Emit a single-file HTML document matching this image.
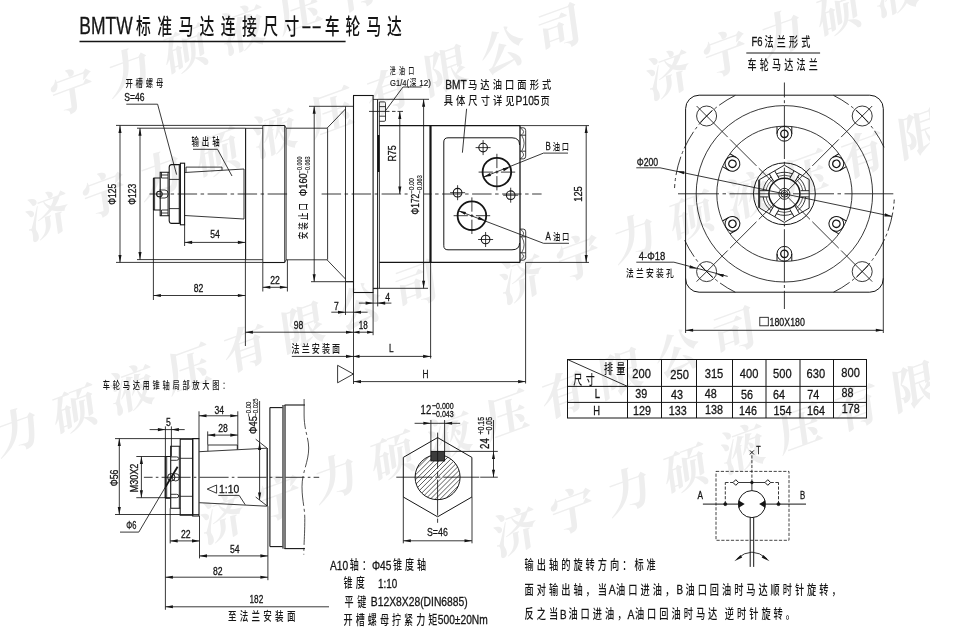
<!DOCTYPE html>
<html lang="zh"><head><meta charset="utf-8"><title>BMTW标准马达连接尺寸--车轮马达</title>
<style>
html,body{margin:0;padding:0;background:#fff}
svg{display:block;will-change:transform;opacity:.999}
svg .ar{fill:#151515;stroke:none}
svg text{font-family:'Liberation Sans','Noto Sans CJK SC',sans-serif;fill:#151515;stroke:none;font-weight:500}
svg text.wm{font-family:'Noto Serif CJK SC',serif;fill:#eee;font-weight:700}
svg text.l{stroke:#151515;stroke-width:.3}
svg text.s{stroke:#151515;stroke-width:.15}
</style></head><body>
<svg width="978" height="642" viewBox="0 0 978 642">
<g stroke="#151515" stroke-width=".85" fill="none">
<defs><clipPath id="wmc"><rect x="0" y="0" width="930" height="642"/></clipPath></defs>
<g clip-path="url(#wmc)" fill="#eeeeee" stroke="none" font-family="'Noto Serif CJK SC',serif" font-weight="700" font-size="46" letter-spacing="14.6">
<text class="wm" transform="translate(53,116.4) rotate(-20) skewX(-12)">宁力硕液压有限公司</text>
<text class="wm" transform="translate(28,240.4) rotate(-20) skewX(-12)">济宁力硕液压有限公司</text>
<text class="wm" transform="translate(649,99.4) rotate(-20) skewX(-12)">济宁力硕液压有限公司</text>
<text class="wm" transform="translate(502,303.4) rotate(-20) skewX(-12)">济宁力硕液压有限公司</text>
<text class="wm" transform="translate(-115,497) rotate(-20) skewX(-12)">济宁力硕液压有限公司</text>
<text class="wm" transform="translate(203,543.4) rotate(-20) skewX(-12)">济宁力硕液压有限公司</text>
<text class="wm" transform="translate(496,556.4) rotate(-20) skewX(-12)">济宁力硕液压有限公司</text>
</g>
<text class="l" transform="translate(79.3,34) translate(0,0) scale(0.7601,1)" font-size="23">BMTW</text>
<g transform="translate(136,34.3)">
<text transform="scale(0.69,1)" x="0 30.72 61.45 92.17 122.9 153.62 184.35 215.07" y="0" font-size="21.5">标准马达连接尺寸</text>
</g>
<text class="l" transform="translate(301.2,33.4) translate(0,0) scale(1.4728,1)" font-size="21">--</text>
<g transform="translate(324.8,34.3)">
<text transform="scale(0.69,1)" x="0 30 60 90" y="0" font-size="21.5">车轮马达</text>
</g>
<line x1="79.5" y1="41.5" x2="345.6" y2="41.5" stroke-width="1.5"/>
<line x1="149.5" y1="194" x2="288" y2="194" stroke-dasharray="19.5 3.5 3.5 3.5" stroke-dashoffset="1.9"/>
<line x1="321.6" y1="194" x2="407.6" y2="194" stroke-dasharray="19.5 3.5 3.5 3.5" stroke-dashoffset="0"/>
<line x1="424" y1="194" x2="541.6" y2="194" stroke-dasharray="19.5 3.5 3.5 3.5" stroke-dashoffset="11.9"/>
<path d="M160.2 178 L153.9 178 L153.4 178.5 L153.4 209.5 L153.9 210 L160.2 210" stroke-width="1.1"/>
<line x1="154.6" y1="178" x2="154.6" y2="210"/>
<path d="M169.2 172.2 L160.2 172.2 L160.2 215.8 L169.2 215.8" stroke-width="1.1"/>
<line x1="161.5" y1="175" x2="168" y2="175"/>
<line x1="161.5" y1="178" x2="168" y2="178"/>
<line x1="161.5" y1="213" x2="168" y2="213"/>
<line x1="161.5" y1="210" x2="168" y2="210"/>
<line x1="161.5" y1="172.2" x2="161.5" y2="178"/>
<line x1="161.5" y1="215.8" x2="161.5" y2="210"/>
<line x1="168" y1="172.2" x2="168" y2="215.8"/>
<path d="M169.2 167 Q169.6 164.6 171.5 164.6 L179.3 164.6 L179.3 223.4 L171.5 223.4 Q169.6 223.4 169.2 221 Z" stroke-width="1.1"/>
<line x1="169.2" y1="179.4" x2="179.3" y2="179.4"/>
<line x1="169.2" y1="208.6" x2="179.3" y2="208.6"/>
<rect x="180.4" y="163.2" width="4.2" height="61.6" stroke-width="1.1"/>
<line x1="179.3" y1="164.6" x2="180.4" y2="164.6"/>
<line x1="179.3" y1="223.4" x2="180.4" y2="223.4"/>
<circle cx="159.4" cy="194" r="2.8" stroke-width="1.1"/>
<path d="M159.4 190 L165 190 A3.2 4 0 0 1 165 198 L159.4 198"/>
<line x1="184.6" y1="172.5" x2="244" y2="169"/>
<line x1="184.6" y1="215.5" x2="244" y2="219"/>
<line x1="244" y1="169" x2="244" y2="219"/>
<path d="M186 172.4 L186 167.1 L222 167.1 L222 170.3"/>
<line x1="245.6" y1="128.3" x2="245.6" y2="259.7" stroke-width="1.1"/>
<line x1="245.6" y1="128.3" x2="262.8" y2="128.3"/>
<line x1="245.6" y1="259.7" x2="262.8" y2="259.7"/>
<line x1="262.8" y1="125.5" x2="262.8" y2="262.5"/>
<line x1="262.8" y1="125.5" x2="284.7" y2="125.5" stroke-width="1.1"/>
<line x1="262.8" y1="262.5" x2="284.7" y2="262.5" stroke-width="1.1"/>
<line x1="284.7" y1="125.5" x2="284.7" y2="262.5"/>
<line x1="284.7" y1="125.5" x2="286.1" y2="128.2"/>
<line x1="284.7" y1="262.5" x2="286.1" y2="259.8"/>
<line x1="286.1" y1="128.2" x2="286.1" y2="259.8"/>
<line x1="286.1" y1="128.2" x2="327" y2="128.2"/>
<line x1="286.1" y1="259.8" x2="327" y2="259.8"/>
<line x1="327.6" y1="128.2" x2="327.6" y2="259.8"/>
<line x1="327" y1="128.2" x2="345.5" y2="109"/>
<line x1="327" y1="259.8" x2="345.5" y2="279"/>
<line x1="345.5" y1="106.3" x2="345.5" y2="281.7"/>
<line x1="345.5" y1="106.3" x2="353.5" y2="106.3"/>
<line x1="345.5" y1="281.7" x2="353.5" y2="281.7"/>
<line x1="353.5" y1="95.5" x2="353.5" y2="292.5" stroke-width="1.1"/>
<line x1="373.1" y1="95.5" x2="373.1" y2="292.5" stroke-width="1.1"/>
<line x1="353" y1="95.5" x2="373.6" y2="95.5" stroke-width="1.1"/>
<line x1="353" y1="292.5" x2="373.6" y2="292.5" stroke-width="1.1"/>
<line x1="373.1" y1="99.4" x2="377.8" y2="99.4"/>
<line x1="373.1" y1="288.6" x2="377.8" y2="288.6"/>
<line x1="377.6" y1="99.4" x2="377.6" y2="288.6" stroke-width="1.0"/>
<line x1="379.4" y1="102" x2="379.4" y2="288.6"/>
<line x1="378.5" y1="135" x2="378.5" y2="172" stroke-width="2.0"/>
<line x1="379.4" y1="125.6" x2="520" y2="125.6" stroke-width="1.1"/>
<line x1="379.4" y1="262.4" x2="520" y2="262.4" stroke-width="1.1"/>
<line x1="430.5" y1="125.6" x2="430.5" y2="262.4" stroke-width="2.2"/>
<path d="M379.4 101.9 L384.3 101.9 Q385.5 101.9 385.5 103.2 L385.5 120 Q385.5 121.3 384.3 121.3 L379.4 121.3"/>
<line x1="379.4" y1="106.6" x2="385.5" y2="106.6"/>
<line x1="379.4" y1="116.2" x2="385.5" y2="116.2"/>
<line x1="369" y1="111.4" x2="403" y2="111.4" stroke-dasharray="20.5 2.5 3.5 2 6"/>
<line x1="520" y1="125.6" x2="520" y2="262.4" stroke-width="1.3"/>
<path d="M519.6 145 Q519.6 137.8 512 137.8 L448 137.8 Q443.8 137.8 443.8 142 L443.8 245.8 Q443.8 249.8 448 249.8 L512 249.8 Q519.6 249.8 519.6 243" stroke-width="1.0"/>
<path d="M520 127.8 L523.3 127.8 Q525.7 127.8 525.7 130.6 L525.7 156.2 Q525.7 158.9 523.3 158.9 L520 158.9"/>
<line x1="520" y1="135.2" x2="525.7" y2="135.2"/>
<line x1="520" y1="151.2" x2="525.7" y2="151.2"/>
<path d="M520.6 128.2 Q526.2 131.5 521.4 135" stroke-width="0.7"/>
<path d="M521.8 135.5 Q526.4 143.2 521.8 150.9" stroke-width="0.7"/>
<path d="M521.4 151.5 Q526.2 155 520.6 158.5" stroke-width="0.7"/>
<path d="M520 260.2 L523.3 260.2 Q525.7 260.2 525.7 257.4 L525.7 231.8 Q525.7 229.1 523.3 229.1 L520 229.1"/>
<line x1="520" y1="252.8" x2="525.7" y2="252.8"/>
<line x1="520" y1="236.8" x2="525.7" y2="236.8"/>
<path d="M520.6 259.8 Q526.2 256.5 521.4 253" stroke-width="0.7"/>
<path d="M521.8 252.5 Q526.4 244.8 521.8 237.1" stroke-width="0.7"/>
<path d="M521.4 236.5 Q526.2 233 520.6 229.5" stroke-width="0.7"/>
<circle cx="483.1" cy="147.6" r="4.3" stroke-width="1.1"/>
<line x1="475.6" y1="147.6" x2="490.6" y2="147.6"/>
<line x1="483.1" y1="140.1" x2="483.1" y2="155.1"/>
<circle cx="457.6" cy="192.7" r="4.3" stroke-width="1.1"/>
<line x1="450.1" y1="192.7" x2="465.1" y2="192.7"/>
<line x1="457.6" y1="185.2" x2="457.6" y2="200.2"/>
<circle cx="510.7" cy="195.2" r="4.3" stroke-width="1.1"/>
<line x1="503.2" y1="195.2" x2="518.2" y2="195.2"/>
<line x1="510.7" y1="187.7" x2="510.7" y2="202.7"/>
<circle cx="485.6" cy="239.5" r="4.3" stroke-width="1.1"/>
<line x1="478.1" y1="239.5" x2="493.1" y2="239.5"/>
<line x1="485.6" y1="232" x2="485.6" y2="247"/>
<circle cx="496.9" cy="172.1" r="14.3" stroke-width="1.8"/>
<line x1="478.6" y1="172.1" x2="492.9" y2="172.1"/>
<line x1="500.9" y1="172.1" x2="515.2" y2="172.1"/>
<line x1="495.4" y1="172.1" x2="498.4" y2="172.1"/>
<line x1="496.9" y1="153.8" x2="496.9" y2="168.1"/>
<line x1="496.9" y1="176.1" x2="496.9" y2="190.4"/>
<line x1="496.9" y1="170.6" x2="496.9" y2="173.6"/>
<circle cx="471.9" cy="215.7" r="14.3" stroke-width="1.8"/>
<line x1="453.6" y1="215.7" x2="467.9" y2="215.7"/>
<line x1="475.9" y1="215.7" x2="490.2" y2="215.7"/>
<line x1="470.4" y1="215.7" x2="473.4" y2="215.7"/>
<line x1="471.9" y1="197.4" x2="471.9" y2="211.7"/>
<line x1="471.9" y1="219.7" x2="471.9" y2="234"/>
<line x1="471.9" y1="214.2" x2="471.9" y2="217.2"/>
<line x1="483.49" y1="177.08" x2="543.5" y2="153.1"/>
<line x1="543.5" y1="153.1" x2="568" y2="153.1"/>
<path class="ar" d="M483.49 177.08 L489.99 173.01 L491.06 175.92 Z"/>
<path class="ar" d="M510.31 167.12 L503.81 171.19 L502.74 168.28 Z"/>
<g transform="translate(545.4,149.8)">
<text class="l" transform="translate(0,0) scale(0.72,1)" xml:space="preserve" font-size="11">B</text>
<text transform="scale(0.76,1)" x="9.85 21.69" y="0" font-size="9.6">油口</text>
</g>
<line x1="458.45" y1="210.83" x2="543.5" y2="243.3"/>
<line x1="543.5" y1="243.3" x2="569" y2="243.3"/>
<path class="ar" d="M458.45 210.83 L466.03 211.93 L464.98 214.84 Z"/>
<path class="ar" d="M485.35 220.57 L477.77 219.47 L478.82 216.56 Z"/>
<g transform="translate(545.6,240.2)">
<text class="l" transform="translate(0,0) scale(0.72,1)" xml:space="preserve" font-size="11">A</text>
<text transform="scale(0.76,1)" x="9.85 21.69" y="0" font-size="9.6">油口</text>
</g>
<line x1="116" y1="125.4" x2="262.8" y2="125.4"/>
<line x1="116" y1="262.4" x2="262.8" y2="262.4"/>
<line x1="120" y1="125.4" x2="120" y2="262.4"/>
<path class="ar" d="M120 125.4 L121.55 132.9 L118.45 132.9 Z"/>
<path class="ar" d="M120 262.4 L118.45 254.9 L121.55 254.9 Z"/>
<line x1="137" y1="128.2" x2="245.6" y2="128.2"/>
<line x1="137" y1="259.6" x2="245.6" y2="259.6"/>
<line x1="140" y1="128.2" x2="140" y2="259.6"/>
<path class="ar" d="M140 128.2 L141.55 135.7 L138.45 135.7 Z"/>
<path class="ar" d="M140 259.6 L138.45 252.1 L141.55 252.1 Z"/>
<text class="l" transform="translate(116,194.2) rotate(-90) translate(-10.5,0) scale(0.8267,1)" font-size="10.3">Φ125</text>
<text class="l" transform="translate(136.4,194.2) rotate(-90) translate(-10.5,0) scale(0.8267,1)" font-size="10.3">Φ123</text>
<line x1="184.6" y1="224.8" x2="184.6" y2="246"/>
<line x1="245.4" y1="259.7" x2="245.4" y2="346"/>
<line x1="184.6" y1="242.4" x2="245.4" y2="242.4"/>
<path class="ar" d="M184.6 242.4 L192.1 240.85 L192.1 243.95 Z"/>
<path class="ar" d="M245.4 242.4 L237.9 243.95 L237.9 240.85 Z"/>
<text class="l" transform="translate(215,238) translate(-4.8,0) scale(0.7991,1)" font-size="10.8">54</text>
<line x1="153.4" y1="209.5" x2="153.4" y2="300"/>
<line x1="153.4" y1="295.5" x2="245.4" y2="295.5"/>
<path class="ar" d="M153.4 295.5 L160.9 293.95 L160.9 297.05 Z"/>
<path class="ar" d="M245.4 295.5 L237.9 297.05 L237.9 293.95 Z"/>
<text class="l" transform="translate(198.5,291.5) translate(-4.8,0) scale(0.7991,1)" font-size="10.8">82</text>
<line x1="262.8" y1="262.5" x2="262.8" y2="291.5"/>
<line x1="287.4" y1="259.8" x2="287.4" y2="291.5"/>
<line x1="262.8" y1="287.3" x2="287.4" y2="287.3"/>
<path class="ar" d="M262.8 287.3 L270.3 285.75 L270.3 288.85 Z"/>
<path class="ar" d="M287.4 287.3 L279.9 288.85 L279.9 285.75 Z"/>
<text class="l" transform="translate(275,283.5) translate(-4.8,0) scale(0.7991,1)" font-size="10.8">22</text>
<line x1="309" y1="106.3" x2="345.5" y2="106.3"/>
<line x1="311" y1="281.7" x2="353.5" y2="281.7"/>
<line x1="314.2" y1="106.3" x2="314.2" y2="281.7"/>
<path class="ar" d="M314.2 106.3 L315.75 113.8 L312.65 113.8 Z"/>
<path class="ar" d="M314.2 281.7 L312.65 274.2 L315.75 274.2 Z"/>
<g transform="translate(306.7,239.3) rotate(-90)">
<text transform="scale(0.72,1)" x="0 13.33 26.67 40" y="0" font-size="10.4">安装止口</text>
</g>
<text class="l" transform="translate(307.3,196.2) rotate(-90) translate(0,0) scale(0.818,1)" font-size="11.4">Φ160</text>
<text class="s" transform="translate(302.3,173.3) rotate(-90) translate(0,0) scale(0.8743,1)" font-size="6.3">−0.000</text>
<text class="s" transform="translate(310,173.3) rotate(-90) translate(0,0) scale(0.8743,1)" font-size="6.3">−0.063</text>
<line x1="377.8" y1="99.3" x2="429" y2="99.3"/>
<line x1="373.1" y1="288.3" x2="428" y2="288.3"/>
<line x1="423.6" y1="99.3" x2="423.6" y2="288.3"/>
<path class="ar" d="M423.6 99.3 L425.15 106.8 L422.05 106.8 Z"/>
<path class="ar" d="M423.6 288.3 L422.05 280.8 L425.15 280.8 Z"/>
<text class="l" transform="translate(418.9,214.4) rotate(-90) translate(0,0) scale(0.8031,1)" font-size="10.4">Φ172</text>
<text class="s" transform="translate(414.3,193.6) rotate(-90) translate(0,0) scale(0.9341,1)" font-size="6.6">−0.00</text>
<text class="s" transform="translate(421.7,193.6) rotate(-90) translate(0,0) scale(0.9131,1)" font-size="6.6">−0.063</text>
<line x1="399.8" y1="111.4" x2="399.8" y2="194"/>
<path class="ar" d="M399.8 111.4 L401.35 118.9 L398.25 118.9 Z"/>
<path class="ar" d="M399.8 194 L398.25 186.5 L401.35 186.5 Z"/>
<text class="l" transform="translate(396.3,153.5) rotate(-90) translate(-8.1,0) scale(0.8331,1)" font-size="10.6">R75</text>
<g transform="translate(389.8,74)">
<text transform="scale(0.66,1)" x="0 13.94 27.88" y="0" font-size="9.1">泄油口</text>
</g>
<text class="s" transform="translate(390,85.8) translate(0,0) scale(0.8633,1)" font-size="8.8">G1/4(</text>
<g transform="translate(409.8,85.6)">
<text transform="scale(0.78,1)" x="0" y="0" font-size="8.6">深</text>
</g>
<text class="s" transform="translate(419.2,85.8) translate(0,0) scale(0.9278,1)" font-size="8.8">12)</text>
<line x1="403" y1="87" x2="421.6" y2="87"/>
<line x1="403" y1="87" x2="385.6" y2="110.6"/>
<text class="l" transform="translate(445.2,88.8) translate(0,0) scale(0.7454,1)" font-size="13.6">BMT</text>
<g transform="translate(468,88.6)">
<text transform="scale(0.8,1)" x="0 15.41 30.82 46.24 61.65 77.06 92.47" y="0" font-size="11.6">马达油口面形式</text>
</g>
<g transform="translate(443.7,105.1)">
<text transform="scale(0.8,1)" x="0 15.41 30.82 46.24 61.65 77.06" y="0" font-size="11.6">具体尺寸详见</text>
</g>
<text class="l" transform="translate(515.6,105.3) translate(0,0) scale(0.7556,1)" font-size="13.6">P105</text>
<g transform="translate(540.6,105.1)">
<text transform="scale(0.8,1)" x="0" y="0" font-size="11.6">页</text>
</g>
<line x1="466.6" y1="108.8" x2="462.4" y2="152.7"/>
<line x1="520" y1="125.6" x2="589" y2="125.6"/>
<line x1="525.7" y1="262.4" x2="589" y2="262.4"/>
<line x1="586.2" y1="125.6" x2="586.2" y2="262.4"/>
<path class="ar" d="M586.2 125.6 L587.75 133.1 L584.65 133.1 Z"/>
<path class="ar" d="M586.2 262.4 L584.65 254.9 L587.75 254.9 Z"/>
<text class="l" transform="translate(581.9,194) rotate(-90) translate(-7.75,0) scale(0.8764,1)" font-size="10.6">125</text>
<line x1="377.7" y1="288.3" x2="377.7" y2="306.4"/>
<line x1="358.9" y1="303.1" x2="391.4" y2="303.1"/>
<path class="ar" d="M373.1 303.1 L365.6 304.65 L365.6 301.55 Z"/>
<path class="ar" d="M377.7 303.1 L385.2 301.55 L385.2 304.65 Z"/>
<text class="l" transform="translate(387.7,300.6) translate(-2.4,0) scale(0.7991,1)" font-size="10.8">4</text>
<line x1="345.5" y1="282" x2="345.5" y2="315"/>
<line x1="331.3" y1="312.2" x2="367.6" y2="312.2"/>
<path class="ar" d="M345.5 312.2 L338 313.75 L338 310.65 Z"/>
<path class="ar" d="M353.5 312.2 L361 310.65 L361 313.75 Z"/>
<text class="l" transform="translate(336.3,309.8) translate(-2.4,0) scale(0.7991,1)" font-size="10.8">7</text>
<line x1="373.1" y1="292.8" x2="373.1" y2="335.2"/>
<line x1="245.4" y1="332.2" x2="373.1" y2="332.2"/>
<path class="ar" d="M245.4 332.2 L252.9 330.65 L252.9 333.75 Z"/>
<path class="ar" d="M353.5 332.2 L346 333.75 L346 330.65 Z"/>
<path class="ar" d="M353.5 332.2 L359.5 330.65 L359.5 333.75 Z"/>
<path class="ar" d="M373.1 332.2 L367.1 333.75 L367.1 330.65 Z"/>
<text class="l" transform="translate(298.5,329) translate(-4.8,0) scale(0.7991,1)" font-size="10.8">98</text>
<text class="l" transform="translate(363.3,329) translate(-4.5,0) scale(0.7492,1)" font-size="10.8">18</text>
<line x1="353.5" y1="292.8" x2="353.5" y2="384"/>
<g transform="translate(291.5,353.4)">
<text transform="scale(0.74,1)" x="0 13.7 27.41 41.11 54.81" y="0" font-size="10.9">法兰安装面</text>
</g>
<line x1="291.8" y1="356.4" x2="431.5" y2="356.4"/>
<path class="ar" d="M353.5 356.4 L346 357.95 L346 354.85 Z"/>
<path class="ar" d="M353.5 356.4 L359.5 354.85 L359.5 357.95 Z"/>
<path class="ar" d="M430.6 356.4 L423.1 357.95 L423.1 354.85 Z"/>
<line x1="430.6" y1="262.4" x2="430.6" y2="358.5"/>
<text class="l" transform="translate(391.4,352.3) translate(-2.3,0) scale(0.7192,1)" font-size="11.5">L</text>
<line x1="525.6" y1="262.4" x2="525.6" y2="383.5"/>
<line x1="353.5" y1="381.6" x2="525.6" y2="381.6"/>
<path class="ar" d="M353.5 381.6 L361 380.05 L361 383.15 Z"/>
<path class="ar" d="M525.6 381.6 L518.1 383.15 L518.1 380.05 Z"/>
<text class="l" transform="translate(425.5,377.9) translate(-3,0) scale(0.7553,1)" font-size="11">H</text>
<path d="M337.6 365.3 L337.6 382.8 L353.4 374 Z"/>
<g transform="translate(125.4,87.2)">
<text transform="scale(0.74,1)" x="0 13.78 27.57 41.35" y="0" font-size="9.9">开槽螺母</text>
</g>
<text class="l" transform="translate(124.2,100.6) translate(0,0) scale(0.8547,1)" font-size="10">S=46</text>
<path d="M126.3 104.2 L157.6 104.2 L176.6 174.6"/>
<g transform="translate(191.4,145.6)">
<text transform="scale(0.67,1)" x="0 15.52 31.04" y="0" font-size="11.1">输出轴</text>
</g>
<path d="M193 149.3 L217.5 149.3 L232 176"/>
<text class="l" transform="translate(751.6,45.7) translate(0,0) scale(0.7726,1)" font-size="12.2">F6</text>
<g transform="translate(764.4,46.4)">
<text transform="scale(0.72,1)" x="0 17.04 34.08 51.13" y="0" font-size="12.6">法兰形式</text>
</g>
<line x1="746.3" y1="53" x2="820.1" y2="53" stroke-width="1.0"/>
<g transform="translate(747.5,69.1)">
<text transform="scale(0.72,1)" x="0 17 34 51 68 85" y="0" font-size="12.6">车轮马达法兰</text>
</g>
<line x1="784.4" y1="82.5" x2="784.4" y2="309" stroke-dasharray="53 2.8 3 2.8" stroke-dashoffset="38.1"/>
<line x1="678" y1="193.8" x2="893.3" y2="193.8" stroke-dasharray="41 3.5 3.5 3.5 53 3.5 3.5 3.5"/>
<rect x="685.6" y="95.2" width="197.7" height="197" stroke-width="1.0" rx="13.5"/>
<circle cx="784.4" cy="193.8" r="88.2"/>
<circle cx="784.4" cy="193.8" r="67.6"/>
<circle cx="706.6" cy="116" r="10"/>
<line x1="696.6" y1="106" x2="781.4" y2="190.8" stroke-dasharray="44 3.3 37.4 3.3 60 3.3"/>
<line x1="712.6" y1="110" x2="700.6" y2="122"/>
<circle cx="862.2" cy="116" r="10"/>
<line x1="872.2" y1="106" x2="787.4" y2="190.8" stroke-dasharray="44 3.3 37.4 3.3 60 3.3"/>
<line x1="856.2" y1="110" x2="868.2" y2="122"/>
<circle cx="706.6" cy="271.6" r="10"/>
<line x1="696.6" y1="281.6" x2="781.4" y2="196.8" stroke-dasharray="44 3.3 37.4 3.3 60 3.3"/>
<line x1="712.6" y1="277.6" x2="700.6" y2="265.6"/>
<circle cx="862.2" cy="271.6" r="10"/>
<line x1="872.2" y1="281.6" x2="787.4" y2="196.8" stroke-dasharray="44 3.3 37.4 3.3 60 3.3"/>
<line x1="856.2" y1="277.6" x2="868.2" y2="265.6"/>
<path d="M735.32 95.36 A110 110 0 0 0 674.55 188.04" stroke-dasharray="19 3 3 3"/>
<path d="M684.71 240.29 A110 110 0 0 0 735.32 292.24" stroke-dasharray="19 3 3 3"/>
<path d="M833.48 292.24 A110 110 0 0 0 894.25 199.56" stroke-dasharray="19 3 3 3"/>
<path d="M884.09 147.31 A110 110 0 0 0 833.48 95.36" stroke-dasharray="19 3 3 3"/>
<g transform="translate(784.4,193.8) rotate(0)">
<circle cx="0" cy="-60" r="7.4" stroke-width="1.0"/>
<path d="M-7.4 -60 L-7.4 -67.2 M7.4 -60 L7.4 -67.2" stroke-width="1.0"/>
<circle cx="0" cy="-60" r="3.7" stroke-width="1.3"/>
</g>
<g transform="translate(784.4,193.8) rotate(-60)">
<circle cx="0" cy="-60" r="7.4" stroke-width="1.0"/>
<path d="M-7.4 -60 L-7.4 -67.2 M7.4 -60 L7.4 -67.2" stroke-width="1.0"/>
<circle cx="0" cy="-60" r="3.7" stroke-width="1.3"/>
</g>
<g transform="translate(784.4,193.8) rotate(-120)">
<circle cx="0" cy="-60" r="7.4" stroke-width="1.0"/>
<path d="M-7.4 -60 L-7.4 -67.2 M7.4 -60 L7.4 -67.2" stroke-width="1.0"/>
<circle cx="0" cy="-60" r="3.7" stroke-width="1.3"/>
</g>
<g transform="translate(784.4,193.8) rotate(-180)">
<circle cx="0" cy="-60" r="7.4" stroke-width="1.0"/>
<path d="M-7.4 -60 L-7.4 -67.2 M7.4 -60 L7.4 -67.2" stroke-width="1.0"/>
<circle cx="0" cy="-60" r="3.7" stroke-width="1.3"/>
</g>
<g transform="translate(784.4,193.8) rotate(-240)">
<circle cx="0" cy="-60" r="7.4" stroke-width="1.0"/>
<path d="M-7.4 -60 L-7.4 -67.2 M7.4 -60 L7.4 -67.2" stroke-width="1.0"/>
<circle cx="0" cy="-60" r="3.7" stroke-width="1.3"/>
</g>
<g transform="translate(784.4,193.8) rotate(-300)">
<circle cx="0" cy="-60" r="7.4" stroke-width="1.0"/>
<path d="M-7.4 -60 L-7.4 -67.2 M7.4 -60 L7.4 -67.2" stroke-width="1.0"/>
<circle cx="0" cy="-60" r="3.7" stroke-width="1.3"/>
</g>
<circle cx="784.4" cy="193.8" r="30.9" stroke-width="1.0"/>
<path d="M784.4 165.2 L809.17 179.5 L809.17 208.1 L784.4 222.4 L759.63 208.1 L759.63 179.5 Z" stroke-width="0.95"/>
<line x1="758.6" y1="179.8" x2="758.6" y2="207.8"/>
<circle cx="784.4" cy="193.8" r="15.5" stroke-width="1.5"/>
<path d="M805.67 190.7 A21.5 21.5 0 0 0 797.73 176.93"/>
<path d="M802.74 190.7 A18.6 18.6 0 0 0 796.26 179.47" stroke-width="0.7"/>
<g transform="translate(784.4,193.8) rotate(0)">
<path d="M16.2 -3.1 L24.7 -3.1 M16.2 3.1 L24.7 3.1" stroke-width="0.9"/>
</g>
<path d="M792.35 173.82 A21.5 21.5 0 0 0 776.45 173.82"/>
<path d="M790.88 176.37 A18.6 18.6 0 0 0 777.92 176.37" stroke-width="0.7"/>
<g transform="translate(784.4,193.8) rotate(60)">
<path d="M16.2 -3.1 L24.7 -3.1 M16.2 3.1 L24.7 3.1" stroke-width="0.9"/>
</g>
<path d="M771.07 176.93 A21.5 21.5 0 0 0 763.13 190.7"/>
<path d="M772.54 179.47 A18.6 18.6 0 0 0 766.06 190.7" stroke-width="0.7"/>
<g transform="translate(784.4,193.8) rotate(120)">
<path d="M16.2 -3.1 L24.7 -3.1 M16.2 3.1 L24.7 3.1" stroke-width="0.9"/>
</g>
<path d="M763.13 196.9 A21.5 21.5 0 0 0 771.07 210.67"/>
<path d="M766.06 196.9 A18.6 18.6 0 0 0 772.54 208.13" stroke-width="0.7"/>
<g transform="translate(784.4,193.8) rotate(180)">
<path d="M16.2 -3.1 L24.7 -3.1 M16.2 3.1 L24.7 3.1" stroke-width="0.9"/>
</g>
<path d="M776.45 213.78 A21.5 21.5 0 0 0 792.35 213.78"/>
<path d="M777.92 211.23 A18.6 18.6 0 0 0 790.88 211.23" stroke-width="0.7"/>
<g transform="translate(784.4,193.8) rotate(240)">
<path d="M16.2 -3.1 L24.7 -3.1 M16.2 3.1 L24.7 3.1" stroke-width="0.9"/>
</g>
<path d="M797.73 210.67 A21.5 21.5 0 0 0 805.67 196.9"/>
<path d="M796.26 208.13 A18.6 18.6 0 0 0 802.74 196.9" stroke-width="0.7"/>
<g transform="translate(784.4,193.8) rotate(300)">
<path d="M16.2 -3.1 L24.7 -3.1 M16.2 3.1 L24.7 3.1" stroke-width="0.9"/>
</g>
<circle cx="784.4" cy="193.8" r="5.5" stroke-width="0.9"/>
<circle cx="784.4" cy="193.8" r="3.4" stroke-width="0.9"/>
<circle cx="784.4" cy="193.8" r="1.6" stroke-width="0.9"/>
<line x1="636.3" y1="167.8" x2="660" y2="167.8"/>
<line x1="660" y1="167.8" x2="892.05" y2="216.4"/>
<path class="ar" d="M676.75 171.2 L684.41 171.22 L683.77 174.26 Z"/>
<path class="ar" d="M892.05 216.4 L884.39 216.38 L885.03 213.34 Z"/>
<text class="l" transform="translate(636.7,165.6) translate(0,0) scale(0.8072,1)" font-size="10.8">Φ200</text>
<text class="l" transform="translate(638.8,259.8) translate(0,0) scale(0.8765,1)" font-size="10.8">4-Φ18</text>
<line x1="636.3" y1="262.2" x2="673.9" y2="262.2"/>
<line x1="673.9" y1="262.2" x2="727.7" y2="276.4"/>
<path class="ar" d="M696.93 268.75 L689.28 268.33 L690.08 265.34 Z"/>
<path class="ar" d="M716.27 273.85 L723.92 274.27 L723.12 277.26 Z"/>
<g transform="translate(625.9,277)">
<text transform="scale(0.75,1)" x="0 13.37 26.75 40.12 53.49" y="0" font-size="10.4">法兰安装孔</text>
</g>
<line x1="685.6" y1="278" x2="685.6" y2="333"/>
<line x1="883.3" y1="278" x2="883.3" y2="333"/>
<line x1="685.6" y1="330.3" x2="883.3" y2="330.3"/>
<path class="ar" d="M685.6 330.3 L693.1 328.75 L693.1 331.85 Z"/>
<path class="ar" d="M883.3 330.3 L875.8 331.85 L875.8 328.75 Z"/>
<rect x="759.8" y="317.3" width="8.5" height="8.5"/>
<text class="l" transform="translate(769.5,325.8) translate(0,0) scale(0.8038,1)" font-size="11">180X180</text>
<line x1="567" y1="359.5" x2="867" y2="359.5" stroke-width="1.0"/>
<line x1="567" y1="386.4" x2="867" y2="386.4" stroke-width="1.0"/>
<line x1="567" y1="402.4" x2="867" y2="402.4" stroke-width="1.0"/>
<line x1="567" y1="418" x2="867" y2="418" stroke-width="1.0"/>
<line x1="567.5" y1="359.5" x2="567.5" y2="418" stroke-width="1.0"/>
<line x1="627.5" y1="359.5" x2="627.5" y2="418" stroke-width="1.0"/>
<line x1="661.5" y1="359.5" x2="661.5" y2="418" stroke-width="1.0"/>
<line x1="696.5" y1="359.5" x2="696.5" y2="418" stroke-width="1.0"/>
<line x1="732.5" y1="359.5" x2="732.5" y2="418" stroke-width="1.0"/>
<line x1="766" y1="359.5" x2="766" y2="418" stroke-width="1.0"/>
<line x1="800" y1="359.5" x2="800" y2="418" stroke-width="1.0"/>
<line x1="833.5" y1="359.5" x2="833.5" y2="418" stroke-width="1.0"/>
<line x1="866.5" y1="359.5" x2="866.5" y2="418" stroke-width="1.0"/>
<line x1="567.5" y1="359.5" x2="627.5" y2="386.4" stroke-width="0.9"/>
<g transform="translate(604,373.2)">
<text transform="scale(0.72,1)" x="0 17.04" y="0" font-size="12.6">排量</text>
</g>
<g transform="translate(573.2,384.2)">
<text transform="scale(0.72,1)" x="0 17.36" y="0" font-size="12.6">尺寸</text>
</g>
<text class="l" transform="translate(597.3,398.4) translate(-2.6,0) scale(0.7421,1)" font-size="12.6">L</text>
<text class="l" transform="translate(596.6,414.6) translate(-3.4,0) scale(0.7594,1)" font-size="12.4">H</text>
<text class="l" transform="translate(632.3,377.8) translate(0,0) scale(0.8778,1)" font-size="12.7">200</text>
<text class="l" transform="translate(670.3,379) translate(0,0) scale(0.8778,1)" font-size="12.7">250</text>
<text class="l" transform="translate(704.7,377.8) translate(0,0) scale(0.8778,1)" font-size="12.7">315</text>
<text class="l" transform="translate(739.8,378.2) translate(0,0) scale(0.8778,1)" font-size="12.7">400</text>
<text class="l" transform="translate(773,378.4) translate(0,0) scale(0.8778,1)" font-size="12.7">500</text>
<text class="l" transform="translate(806.5,378.4) translate(0,0) scale(0.8778,1)" font-size="12.7">630</text>
<text class="l" transform="translate(841.3,377.2) translate(0,0) scale(0.8778,1)" font-size="12.7">800</text>
<text class="l" transform="translate(635.2,398) translate(0,0) scale(0.8562,1)" font-size="12.6">39</text>
<text class="l" transform="translate(671,399.2) translate(0,0) scale(0.8562,1)" font-size="12.6">43</text>
<text class="l" transform="translate(704.8,398.4) translate(0,0) scale(0.8562,1)" font-size="12.6">48</text>
<text class="l" transform="translate(741.1,398.5) translate(0,0) scale(0.8562,1)" font-size="12.6">56</text>
<text class="l" transform="translate(773.1,398.6) translate(0,0) scale(0.8562,1)" font-size="12.6">64</text>
<text class="l" transform="translate(807.3,398.6) translate(0,0) scale(0.8562,1)" font-size="12.6">74</text>
<text class="l" transform="translate(841.6,396.8) translate(0,0) scale(0.8562,1)" font-size="12.6">88</text>
<text class="l" transform="translate(633.1,414.8) translate(0,0) scale(0.8562,1)" font-size="12.6">129</text>
<text class="l" transform="translate(668.7,415.2) translate(0,0) scale(0.8562,1)" font-size="12.6">133</text>
<text class="l" transform="translate(704.9,414) translate(0,0) scale(0.8562,1)" font-size="12.6">138</text>
<text class="l" transform="translate(738.9,414.6) translate(0,0) scale(0.8562,1)" font-size="12.6">146</text>
<text class="l" transform="translate(773.6,414.6) translate(0,0) scale(0.8562,1)" font-size="12.6">154</text>
<text class="l" transform="translate(807,414.6) translate(0,0) scale(0.8562,1)" font-size="12.6">164</text>
<text class="l" transform="translate(841.7,412.7) translate(0,0) scale(0.8562,1)" font-size="12.6">178</text>
<rect x="716" y="471.4" width="73" height="68.9" stroke-width="0.8" stroke-dasharray="3.2 1.6"/>
<line x1="702.9" y1="504.1" x2="738.4" y2="504.1" stroke-width="1.0"/>
<line x1="765.4" y1="504.1" x2="806" y2="504.1" stroke-width="1.0"/>
<circle cx="751.9" cy="504.1" r="13.5" stroke-width="1.0"/>
<circle cx="725.3" cy="504.1" r="1.5" fill="#151515"/>
<circle cx="778.5" cy="504.1" r="1.5" fill="#151515"/>
<line x1="725.3" y1="504.1" x2="725.3" y2="482.5" stroke-dasharray="3.2 1.6"/>
<line x1="778.5" y1="504.1" x2="778.5" y2="482.5" stroke-dasharray="3.2 1.6"/>
<line x1="725.3" y1="482.5" x2="733" y2="482.5" stroke-dasharray="3.2 1.6"/>
<line x1="738.6" y1="482.5" x2="765" y2="482.5"/>
<line x1="770.6" y1="482.5" x2="778.5" y2="482.5" stroke-dasharray="3.2 1.6"/>
<path d="M733 482.5 L735.8 479.7 L738.6 482.5 L735.8 485.3 Z" stroke-width="1.0"/>
<path d="M765 482.5 L767.8 479.7 L770.6 482.5 L767.8 485.3 Z" stroke-width="1.0"/>
<circle cx="751.9" cy="482.5" r="1.3" fill="#151515"/>
<line x1="751.9" y1="482.5" x2="751.9" y2="490.6"/>
<line x1="751.9" y1="482.5" x2="751.9" y2="454" stroke-dasharray="3.2 1.6"/>
<line x1="749.9" y1="450.4" x2="753.9" y2="454.4" stroke-width="1.0"/>
<line x1="749.9" y1="454.4" x2="753.9" y2="450.4" stroke-width="1.0"/>
<text class="l" transform="translate(756.3,454.2) translate(0,0) scale(0.7062,1)" font-size="10.2">T</text>
<text class="l" transform="translate(697.4,499.3) translate(0,0) scale(0.7779,1)" font-size="10.6">A</text>
<text class="l" transform="translate(799.9,499.3) translate(0,0) scale(0.7355,1)" font-size="10.6">B</text>
<path class="ar" d="M738.4 500.3 L744.7 504.1 L738.4 507.9 Z"/>
<path class="ar" d="M765.4 500.3 L759.1 504.1 L765.4 507.9 Z"/>
<line x1="750.2" y1="517.4" x2="750.2" y2="566.9" stroke-width="1.0"/>
<line x1="753.7" y1="517.4" x2="753.7" y2="566.9" stroke-width="1.0"/>
<path d="M737 558.8 Q751.9 545.5 767 558.8"/>
<path class="ar" d="M734.3 561.2 L740.6 555 L742.2 557.6 Z"/>
<path class="ar" d="M769.6 561.2 L763.3 555 L761.7 557.6 Z"/>
<g transform="translate(524.6,569)">
<text transform="scale(0.72,1)" x="0 16.94 33.89 50.83 67.78 84.72 101.67 118.61 135.56 152.5 169.44" y="0" font-size="12.8">输出轴的旋转方向：标准</text>
</g>
<g transform="translate(524.6,594)">
<text transform="scale(0.72,1)" x="0 16.94 33.89 50.83 67.78 84.72 101.67" y="0" font-size="12.8">面对输出轴，当</text>
</g>
<text class="l" transform="translate(608.7,594.1) translate(0,0) scale(0.8479,1)" font-size="12.2">A</text>
<g transform="translate(616.1,594)">
<text transform="scale(0.72,1)" x="0 16.94 33.89 50.83 67.78" y="0" font-size="12.8">油口进油，</text>
</g>
<text class="l" transform="translate(676.6,594.1) translate(0,0) scale(0.8111,1)" font-size="12.2">B</text>
<g transform="translate(685.5,594)">
<text transform="scale(0.72,1)" x="0 16.89 33.78 50.67 67.56 84.44 101.33 118.22 135.11 152 168.89 185.78 202.67" y="0" font-size="12.8">油口回油时马达顺时针旋转，</text>
</g>
<g transform="translate(524.6,618.4)">
<text transform="scale(0.72,1)" x="0 16.94 33.89" y="0" font-size="12.8">反之当</text>
</g>
<text class="l" transform="translate(559.9,618.5) translate(0,0) scale(0.8111,1)" font-size="12.2">B</text>
<g transform="translate(568.4,618.4)">
<text transform="scale(0.72,1)" x="0 16.94 33.89 50.83 67.78" y="0" font-size="12.8">油口进油，</text>
</g>
<text class="l" transform="translate(627.5,618.5) translate(0,0) scale(0.8479,1)" font-size="12.2">A</text>
<g transform="translate(634.9,618.4)">
<text transform="scale(0.72,1)" x="0 16.94 33.89 50.83 67.78 84.72 101.67" y="0" font-size="12.8">油口回油时马达</text>
</g>
<g transform="translate(724.8,618.4)">
<text transform="scale(0.72,1)" x="0 16.94 33.89 50.83 67.78 84.72" y="0" font-size="12.8">逆时针旋转。</text>
</g>
<text class="l" transform="translate(330,569.6) translate(0,0) scale(0.8384,1)" font-size="12.2">A10</text>
<g transform="translate(349.8,569.4)">
<text transform="scale(0.72,1)" x="0 16.94" y="0" font-size="12.6">轴：</text>
</g>
<text class="l" transform="translate(372,569.6) translate(0,0) scale(0.8325,1)" font-size="12.2">Φ45</text>
<g transform="translate(392.9,569.4)">
<text transform="scale(0.72,1)" x="0 16.81 33.61" y="0" font-size="12.6">锥度轴</text>
</g>
<g transform="translate(343.6,587.4)">
<text transform="scale(0.72,1)" x="0 16.81" y="0" font-size="12.6">锥度</text>
</g>
<text class="l" transform="translate(378,587.6) translate(0,0) scale(0.8086,1)" font-size="12.2">1:10</text>
<g transform="translate(344.4,605.6)">
<text transform="scale(0.72,1)" x="0 17.92" y="0" font-size="12.6">平键</text>
</g>
<text class="l" transform="translate(370.8,605.8) translate(0,0) scale(0.8463,1)" font-size="12.2">B12X8X28(DIN6885)</text>
<g transform="translate(343.6,623.8)">
<text transform="scale(0.72,1)" x="0 16.81 33.61 50.42 67.22 84.03 100.83 117.64" y="0" font-size="12.6">开槽螺母拧紧力矩</text>
</g>
<text class="l" transform="translate(437.8,624) translate(0,0) scale(0.839,1)" font-size="12.2">500±20Nm</text>
<g transform="translate(102.8,389.4)">
<text transform="scale(0.74,1)" x="0 13.45 26.89 40.34 53.78 67.23 80.68 94.12 107.57 121.01 134.46 147.91 161.35" y="0" font-size="9.8">车轮马达用锥轴局部放大图：</text>
</g>
<line x1="143.9" y1="477.3" x2="319.2" y2="477.3" stroke-dasharray="29 3.2 2.6 3.2" stroke-dashoffset="20.3"/>
<path d="M170.7 456.5 L165.8 456.5 L165.2 457.1 L165.2 497.5 L165.8 498.1 L170.7 498.1" stroke-width="1.1"/>
<line x1="166.7" y1="456.5" x2="166.7" y2="498.1"/>
<path d="M180.2 446.3 L170.7 446.3 L170.7 508.3 L180.2 508.3" stroke-width="1.1"/>
<path d="M171 456.9 L176.6 456.9 A2.1 1.7 0 0 1 176.6 460.3 L171 460.3"/>
<path d="M171 497.7 L176.6 497.7 A2.1 1.7 0 0 0 176.6 494.3 L171 494.3"/>
<line x1="179.3" y1="446.3" x2="179.3" y2="508.3"/>
<path d="M180.2 439.3 L192.7 439.3 L192.7 515.3 L180.2 515.3 Z" stroke-width="1.1"/>
<line x1="180.2" y1="458.3" x2="192.7" y2="458.3"/>
<line x1="180.2" y1="496.3" x2="192.7" y2="496.3"/>
<rect x="192.7" y="438.6" width="6.3" height="77.4" stroke-width="1.1"/>
<circle cx="171.3" cy="477.3" r="3.7" stroke-width="1.0"/>
<circle cx="175.7" cy="477.3" r="3.7"/>
<line x1="165.6" y1="486.7" x2="177.6" y2="466.7" stroke-width="1.8"/>
<line x1="199.2" y1="451.7" x2="266.8" y2="448.2"/>
<line x1="199.2" y1="502.7" x2="266.8" y2="506.2"/>
<line x1="267.2" y1="448.2" x2="267.2" y2="506.2" stroke-width="1.3"/>
<path d="M207.9 451.1 L207.9 445 L237.3 445 L237.3 449.6"/>
<line x1="269.9" y1="407.6" x2="269.9" y2="546.6" stroke-width="1.1"/>
<line x1="269.9" y1="407.6" x2="283" y2="407.6" stroke-width="1.1"/>
<line x1="269.9" y1="546.6" x2="283" y2="546.6" stroke-width="1.1"/>
<line x1="283" y1="407.6" x2="284.6" y2="405"/>
<line x1="283" y1="546.6" x2="284.6" y2="548.6"/>
<rect x="282.3" y="405.4" width="3.4" height="142.8" stroke-width="0.3" fill="#7d7d7d"/>
<line x1="284.6" y1="405" x2="304.9" y2="405" stroke-width="1.1"/>
<line x1="284.6" y1="548.6" x2="304.9" y2="548.6" stroke-width="1.1"/>
<path d="M304.1 399 L304.1 415 C304.1 430 308.7 438 308.7 448 C308.7 462 302 472 302 486.7 C302 500 304.8 508 304.8 518.5 C304.8 535 303.8 545 303.8 554.6" stroke-width="0.75" stroke-dasharray="30 3 3 3"/>
<line x1="115" y1="438.6" x2="199" y2="438.6"/>
<line x1="115" y1="514.5" x2="199" y2="514.5"/>
<line x1="119.3" y1="438.6" x2="119.3" y2="514.5"/>
<path class="ar" d="M119.3 438.6 L120.85 446.1 L117.75 446.1 Z"/>
<path class="ar" d="M119.3 514.5 L117.75 507 L120.85 507 Z"/>
<text class="l" transform="translate(117.6,477.9) rotate(-90) translate(-8.3,0) scale(0.8047,1)" font-size="10.8">Φ56</text>
<line x1="136.3" y1="456.5" x2="170.2" y2="456.5"/>
<line x1="136.3" y1="497.7" x2="170.2" y2="497.7"/>
<line x1="141.4" y1="456.5" x2="141.4" y2="497.7"/>
<path class="ar" d="M141.4 456.5 L142.95 464 L139.85 464 Z"/>
<path class="ar" d="M141.4 497.7 L139.85 490.2 L142.95 490.2 Z"/>
<text class="l" transform="translate(138.4,477.9) rotate(-90) translate(-14.3,0) scale(0.8679,1)" font-size="10.4">M30X2</text>
<line x1="165.4" y1="426.4" x2="165.4" y2="609.8"/>
<line x1="171.4" y1="426.4" x2="171.4" y2="456.4"/>
<line x1="149.6" y1="429.6" x2="184.7" y2="429.6"/>
<path class="ar" d="M165.4 429.6 L157.9 431.15 L157.9 428.05 Z"/>
<path class="ar" d="M171.4 429.6 L178.9 428.05 L178.9 431.15 Z"/>
<text class="l" transform="translate(168.5,426.4) translate(-2.4,0) scale(0.7991,1)" font-size="10.8">5</text>
<line x1="199" y1="411.3" x2="199" y2="438.6"/>
<line x1="237.8" y1="411.3" x2="237.8" y2="449"/>
<line x1="199" y1="415.8" x2="237.8" y2="415.8"/>
<path class="ar" d="M199 415.8 L206.5 414.25 L206.5 417.35 Z"/>
<path class="ar" d="M237.8 415.8 L230.3 417.35 L230.3 414.25 Z"/>
<text class="l" transform="translate(219.3,413.8) translate(-4.8,0) scale(0.7991,1)" font-size="10.8">34</text>
<line x1="207.7" y1="431.4" x2="207.7" y2="444.9"/>
<line x1="207.7" y1="435.1" x2="237.8" y2="435.1"/>
<path class="ar" d="M207.7 435.1 L215.2 433.55 L215.2 436.65 Z"/>
<path class="ar" d="M237.8 435.1 L230.3 436.65 L230.3 433.55 Z"/>
<text class="l" transform="translate(223,432.2) translate(-4.8,0) scale(0.7991,1)" font-size="10.8">28</text>
<line x1="255.7" y1="439.2" x2="267.9" y2="448.8"/>
<line x1="255.7" y1="497" x2="267.2" y2="506"/>
<line x1="259.6" y1="401" x2="259.6" y2="499.9"/>
<path class="ar" d="M259.6 442.5 L261.15 450 L258.05 450 Z"/>
<path class="ar" d="M259.6 499.9 L258.05 492.4 L261.15 492.4 Z"/>
<text class="l" transform="translate(257,434) rotate(-90) translate(0,0) scale(0.8194,1)" font-size="11.5">Φ45</text>
<text class="s" transform="translate(251,416.6) rotate(-90) translate(0,0) scale(0.8982,1)" font-size="6.6">−0.00</text>
<text class="s" transform="translate(258.2,416.6) rotate(-90) translate(0,0) scale(0.8836,1)" font-size="6.6">−0.025</text>
<path d="M207.2 489.1 L216.6 485 L216.6 493.2 Z"/>
<text class="l" transform="translate(219,493.3) translate(0,0) scale(0.9104,1)" font-size="11.4">1:10</text>
<path d="M218.3 495.4 L239.2 495.4 L245.2 504.7"/>
<text class="l" transform="translate(126.3,529.1) translate(0,0) scale(0.6975,1)" font-size="10.8">Φ6</text>
<path d="M120 532.1 L138.8 532.1 L165.6 486.7"/>
<line x1="170.2" y1="508.3" x2="170.2" y2="543.4"/>
<line x1="199.5" y1="516" x2="199.5" y2="558.4"/>
<line x1="170.2" y1="540.9" x2="199.5" y2="540.9"/>
<path class="ar" d="M170.2 540.9 L177.7 539.35 L177.7 542.45 Z"/>
<path class="ar" d="M199.5 540.9 L192 542.45 L192 539.35 Z"/>
<text class="l" transform="translate(185.7,538.4) translate(-4.8,0) scale(0.7991,1)" font-size="10.8">22</text>
<line x1="267.9" y1="506.2" x2="267.9" y2="580.2"/>
<line x1="199.5" y1="555.9" x2="267.9" y2="555.9"/>
<path class="ar" d="M199.5 555.9 L207 554.35 L207 557.45 Z"/>
<path class="ar" d="M267.9 555.9 L260.4 557.45 L260.4 554.35 Z"/>
<text class="l" transform="translate(234.8,553.4) translate(-4.8,0) scale(0.7991,1)" font-size="10.8">54</text>
<line x1="165.4" y1="577.2" x2="267.9" y2="577.2"/>
<path class="ar" d="M165.4 577.2 L172.9 575.65 L172.9 578.75 Z"/>
<path class="ar" d="M267.9 577.2 L260.4 578.75 L260.4 575.65 Z"/>
<text class="l" transform="translate(217.7,575.2) translate(-4.8,0) scale(0.7991,1)" font-size="10.8">82</text>
<line x1="165.4" y1="606.8" x2="329" y2="606.8"/>
<path class="ar" d="M165.4 606.8 L172.9 605.25 L172.9 608.35 Z"/>
<text class="l" transform="translate(256.4,602.6) translate(-6.9,0) scale(0.7658,1)" font-size="10.8">182</text>
<g transform="translate(228,621.3)">
<text transform="scale(0.7,1)" x="0 16.83 33.66 50.49 67.31 84.14" y="0" font-size="12.2">至法兰安装面</text>
</g>
<path d="M437.6 437.6 L471.89 457.4 L471.89 497 L437.6 516.8 L403.31 497 L403.31 457.4 Z" stroke-width="1.0"/>
<defs><clipPath id="shc"><circle cx="437.6" cy="477.2" r="22.5"/></clipPath></defs>
<g clip-path="url(#shc)">
<line x1="358.6" y1="507.2" x2="418.6" y2="447.2" stroke-width="0.7"/>
<line x1="363.5" y1="507.2" x2="423.5" y2="447.2" stroke-width="0.7"/>
<line x1="368.4" y1="507.2" x2="428.4" y2="447.2" stroke-width="0.7"/>
<line x1="373.3" y1="507.2" x2="433.3" y2="447.2" stroke-width="0.7"/>
<line x1="378.2" y1="507.2" x2="438.2" y2="447.2" stroke-width="0.7"/>
<line x1="383.1" y1="507.2" x2="443.1" y2="447.2" stroke-width="0.7"/>
<line x1="388" y1="507.2" x2="448" y2="447.2" stroke-width="0.7"/>
<line x1="392.9" y1="507.2" x2="452.9" y2="447.2" stroke-width="0.7"/>
<line x1="397.8" y1="507.2" x2="457.8" y2="447.2" stroke-width="0.7"/>
<line x1="402.7" y1="507.2" x2="462.7" y2="447.2" stroke-width="0.7"/>
<line x1="407.6" y1="507.2" x2="467.6" y2="447.2" stroke-width="0.7"/>
<line x1="412.5" y1="507.2" x2="472.5" y2="447.2" stroke-width="0.7"/>
<line x1="417.4" y1="507.2" x2="477.4" y2="447.2" stroke-width="0.7"/>
<line x1="422.3" y1="507.2" x2="482.3" y2="447.2" stroke-width="0.7"/>
<line x1="427.2" y1="507.2" x2="487.2" y2="447.2" stroke-width="0.7"/>
<line x1="432.1" y1="507.2" x2="492.1" y2="447.2" stroke-width="0.7"/>
<line x1="437" y1="507.2" x2="497" y2="447.2" stroke-width="0.7"/>
<line x1="441.9" y1="507.2" x2="501.9" y2="447.2" stroke-width="0.7"/>
<line x1="446.8" y1="507.2" x2="506.8" y2="447.2" stroke-width="0.7"/>
<line x1="451.7" y1="507.2" x2="511.7" y2="447.2" stroke-width="0.7"/>
<line x1="456.6" y1="507.2" x2="516.6" y2="447.2" stroke-width="0.7"/>
</g>
<circle cx="437.6" cy="477.2" r="22.5" stroke-width="1.0"/>
<rect x="430.9" y="451.4" width="13.7" height="9.5" stroke-width="1.0" fill="#3c3c3c"/>
<line x1="396.3" y1="477.2" x2="480.2" y2="477.2" stroke-dasharray="36 3 5 3"/>
<line x1="437.6" y1="432.6" x2="437.6" y2="522.8" stroke-dasharray="36 3 5 3"/>
<line x1="430.9" y1="420" x2="430.9" y2="451"/>
<line x1="444.6" y1="420" x2="444.6" y2="451"/>
<line x1="414.6" y1="423.3" x2="460.2" y2="423.3"/>
<path class="ar" d="M430.9 423.3 L423.4 424.85 L423.4 421.75 Z"/>
<path class="ar" d="M444.6 423.3 L452.1 421.75 L452.1 424.85 Z"/>
<text class="l" transform="translate(420.6,414.2) translate(0,0) scale(0.7811,1)" font-size="12.2">12</text>
<text class="l" transform="translate(431.9,408.8) translate(0,0) scale(0.7514,1)" font-size="9.4">−0.000</text>
<text class="l" transform="translate(431.9,417.3) translate(0,0) scale(0.7514,1)" font-size="9.4">−0.043</text>
<line x1="444.6" y1="451.4" x2="497.8" y2="451.4"/>
<line x1="480.2" y1="477.2" x2="497.8" y2="477.2"/>
<line x1="493.5" y1="420" x2="493.5" y2="477.2"/>
<path class="ar" d="M493.5 451.4 L495.05 458.9 L491.95 458.9 Z"/>
<path class="ar" d="M493.5 477.2 L491.95 469.7 L495.05 469.7 Z"/>
<text class="l" transform="translate(489.2,449) rotate(-90) translate(0,0) scale(0.7959,1)" font-size="12.2">24</text>
<text class="l" transform="translate(483.7,434.4) rotate(-90) translate(0,0) scale(0.7316,1)" font-size="9.4">+0.15</text>
<text class="l" transform="translate(491.7,434.4) rotate(-90) translate(0,0) scale(0.7316,1)" font-size="9.4">−0.05</text>
<line x1="403.3" y1="497" x2="403.3" y2="543.3"/>
<line x1="472" y1="497" x2="472" y2="543.3"/>
<line x1="403.3" y1="540.8" x2="472" y2="540.8"/>
<path class="ar" d="M403.3 540.8 L410.8 539.25 L410.8 542.35 Z"/>
<path class="ar" d="M472 540.8 L464.5 542.35 L464.5 539.25 Z"/>
<text class="l" transform="translate(437.4,536) translate(-10.4,0) scale(0.7587,1)" font-size="11.6">S=46</text>
</g>
</svg>
</body></html>
